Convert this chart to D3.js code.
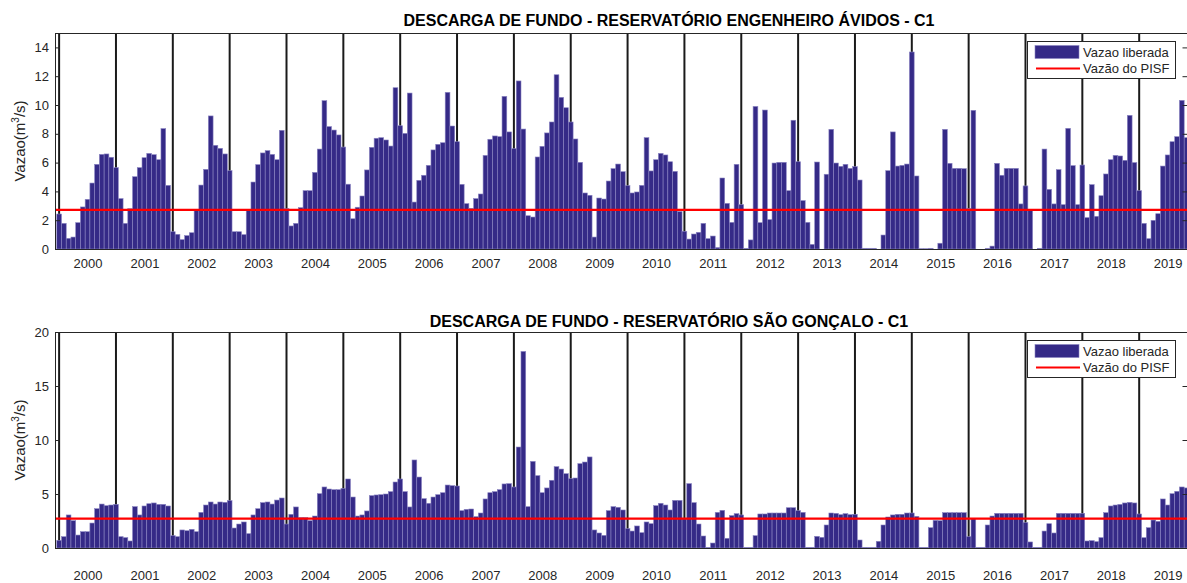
<!DOCTYPE html>
<html>
<head>
<meta charset="utf-8">
<script src="https://cdn.jsdelivr.net/npm/d3@7"></script>
<style>
  body { margin: 0; background: #fff; }
  svg { display: block; font-family: "Liberation Sans", Arial, sans-serif; }
</style>
</head>
<body>
<div id="chart"></div>
<script>
// monthly values, Jan 2000 .. Dec 2019 (one row per year)
const years = d3.range(2000, 2020);

const avidos = [
  2.43, 1.78, 0.74, 0.83, 1.83, 2.92, 3.45, 4.58, 5.88, 6.57, 6.6, 6.37,
  5.65, 3.5, 1.78, 2.8, 5.02, 5.65, 6.34, 6.64, 6.55, 6.2, 8.36, 4.42,
  1.2, 1.02, 0.65, 0.93, 1.13, 2.75, 4.44, 5.53, 9.24, 7.2, 6.99, 6.6,
  5.44, 1.2, 1.2, 1.0, 2.7, 4.65, 5.86, 6.67, 6.83, 6.57, 6.2, 8.24,
  2.8, 1.6, 1.78, 2.87, 4.05, 4.05, 5.32, 6.94, 10.3, 8.5, 8.26, 7.92,
  7.08, 4.5, 2.1, 2.9, 3.68, 5.49, 7.06, 7.69, 7.73, 7.57, 7.15, 11.2,
  8.56, 8.03, 10.83, 3.26, 4.77, 5.12, 5.81, 6.88, 7.27, 7.38, 10.88, 8.54,
  7.45, 4.49, 3.15, 2.82, 3.5, 3.82, 6.5, 7.62, 7.85, 7.8, 10.6, 8.13,
  6.97, 11.67, 8.33, 2.31, 2.22, 6.39, 7.13, 8.06, 8.82, 12.1, 10.53, 9.81,
  8.82, 7.64, 6.02, 3.89, 3.73, 0.83, 3.54, 3.47, 4.72, 5.58, 5.9, 5.37,
  4.4, 3.89, 3.96, 4.42, 7.73, 5.42, 6.2, 6.64, 6.53, 6.06, 5.39, 2.6,
  1.23, 0.69, 1.04, 1.16, 1.78, 0.72, 0.9, 0.1, 4.93, 3.17, 1.85, 5.88,
  3.08, 0.05, 0.63, 9.9, 1.83, 9.65, 2.04, 5.97, 6.02, 6.02, 4.05, 8.94,
  6.06, 3.36, 1.85, 0.32, 6.04, 0, 5.19, 8.31, 5.97, 5.74, 5.88, 5.6,
  5.72, 4.79, 0.05, 0.05, 0.05, 0, 0.97, 5.44, 8.13, 5.76, 5.81, 5.9,
  13.68, 5.07, 0.02, 0.02, 0.05, 0, 0.4, 8.31, 5.95, 5.6, 5.6, 5.58,
  2.82, 9.63, 0, 0, 0.05, 0.2, 5.95, 5.12, 5.6, 5.6, 5.6, 3.13,
  4.38, 2.75, 0, 0.05, 6.94, 4.14, 3.13, 5.51, 3.08, 8.38, 5.79, 3.08,
  5.83, 2.18, 4.47, 2.27, 3.7, 5.21, 6.2, 6.5, 6.46, 6.16, 9.28, 6.0,
  4.05, 1.78, 0.72, 1.99, 2.45, 5.76, 6.53, 7.45, 7.8, 10.32, 7.73, 7.7,
];

const saoGoncalo = [
  0.71, 1.05, 3.06, 2.53, 1.2, 1.51, 1.51, 2.31, 3.64, 4.07, 3.92, 3.98,
  4.04, 1.05, 0.96, 0.65, 3.83, 3.06, 3.89, 4.1, 4.17, 4.04, 4.04, 3.89,
  1.14, 1.05, 1.67, 1.6, 1.73, 1.51, 3.3, 3.98, 4.26, 4.07, 4.26, 4.23,
  4.38, 1.85, 2.22, 2.41, 1.33, 3.06, 3.64, 4.2, 4.26, 4.07, 4.44, 4.63,
  2.22, 3.12, 3.8, 2.81, 2.81, 2.53, 2.96, 5.03, 5.65, 5.46, 5.4, 5.4,
  5.52, 6.39, 4.72, 2.96, 3.06, 3.43, 4.85, 4.91, 4.94, 5.0, 5.22, 6.11,
  6.39, 5.22, 3.8, 8.15, 6.57, 4.57, 4.14, 4.72, 4.94, 5.12, 5.83, 5.77,
  5.74, 3.46, 3.58, 3.61, 2.9, 3.24, 4.54, 5.12, 5.22, 5.4, 5.93, 5.96,
  5.65, 9.35, 18.2, 3.83, 8.02, 6.7, 5.12, 5.56, 6.27, 7.53, 7.31, 6.88,
  6.42, 6.48, 7.81, 7.96, 8.43, 1.67, 1.39, 1.17, 3.46, 3.83, 3.77, 3.52,
  1.79, 1.57, 2.04, 1.42, 2.41, 2.25, 3.92, 4.14, 3.98, 3.52, 4.41, 4.41,
  2.7, 5.96, 4.2, 2.22, 1.11, 0.05, 0.46, 3.3, 3.49, 0.9, 3.0, 3.18,
  3.06, 0.05, 0.05, 1.14, 3.15, 3.15, 3.24, 3.24, 3.24, 3.24, 3.73, 3.73,
  3.46, 3.3, 0.06, 0.06, 1.08, 0.99, 2.13, 3.24, 3.21, 3.09, 3.18, 3.09,
  3.12, 0.74, 0.06, 0.05, 0.05, 0.62, 2.13, 2.87, 3.06, 3.12, 3.12, 3.24,
  3.24, 2.93, 0.06, 0.05, 1.88, 2.56, 2.53, 3.27, 3.27, 3.27, 3.27, 3.27,
  1.05, 2.7, 0.06, 0.05, 2.13, 2.96, 3.21, 3.21, 3.21, 3.21, 3.21, 3.21,
  2.35, 0.56, 0.06, 0.06, 1.57, 2.25, 1.39, 3.21, 3.21, 3.21, 3.21, 3.21,
  3.21, 0.65, 0.68, 0.59, 0.96, 3.27, 3.89, 3.98, 4.04, 4.17, 4.23, 4.17,
  3.15, 0.96, 1.88, 2.59, 2.47, 4.54, 3.98, 5.03, 5.25, 5.65, 5.56, 5.5,
];

const pisf = 2.72;
const legendLabels = ['Vazao liberada', 'Vazão do PISF'];

const panels = [
  {
    id: 'avidos',
    title: 'DESCARGA DE FUNDO - RESERVATÓRIO ENGENHEIRO ÁVIDOS - C1',
    values: avidos,
    yMax: 15,
    yTicks: [0, 2, 4, 6, 8, 10, 12, 14],
    top: 33,
    bottom: 249,
    titleY: 25.5,
    yearY: 268,
  },
  {
    id: 'sao',
    title: 'DESCARGA DE FUNDO - RESERVATÓRIO SÃO GONÇALO - C1',
    values: saoGoncalo,
    yMax: 20,
    yTicks: [0, 5, 10, 15, 20],
    top: 332,
    bottom: 548,
    titleY: 326.5,
    yearY: 580,
  },
];

const W = 1187;
const H = 583;
const left = 55;
const right = 1187.5;
const barColor = '#352a87';
const axisColor = '#262626';

const svg = d3.select('#chart')
  .append('svg')
    .attr('width', W)
    .attr('height', H)
    .attr('viewBox', `0 0 ${W} ${H}`);

// month index -> x (Jan 2000 = 0)
const x = d3.scaleLinear()
  .domain([-0.87, 238.2])
  .range([left, right]);
const bw = x(1) - x(0);

panels.forEach((p) => {
  const y = d3.scaleLinear()
    .domain([0, p.yMax])
    .range([p.bottom, p.top]);

  const g = svg.append('g').attr('class', `panel panel--${p.id}`);

  svg.append('defs')
    .append('clipPath')
      .attr('id', `clip-${p.id}`)
    .append('rect')
      .attr('x', left)
      .attr('y', p.top)
      .attr('width', right - left)
      .attr('height', p.bottom - p.top);

  const plot = g.append('g').attr('clip-path', `url(#clip-${p.id})`);

  // year separators (drawn behind the bars)
  plot.append('g')
    .selectAll('line')
    .data(years)
    .enter()
    .append('line')
      .attr('x1', (d, i) => x(i * 12))
      .attr('x2', (d, i) => x(i * 12))
      .attr('y1', y(p.yMax))
      .attr('y2', y(0))
      .attr('stroke', '#1a1a1a')
      .attr('stroke-width', 2);

  // bars
  plot.append('g')
    .selectAll('rect')
    .data(p.values)
    .enter()
    .append('rect')
      .attr('x', (d, i) => x(i) - bw / 2)
      .attr('y', d => y(d))
      .attr('width', bw)
      .attr('height', d => y(0) - y(d))
      .attr('fill', barColor)
      .attr('stroke', '#8a84c2')
      .attr('stroke-width', 0.6);

  // PISF reference
  plot.append('line')
    .attr('x1', left)
    .attr('x2', right)
    .attr('y1', y(pisf))
    .attr('y2', y(pisf))
    .attr('stroke', '#ff0000')
    .attr('stroke-width', 2.2);

  // axes
  const axisY = d3.axisLeft(y)
    .tickValues(p.yTicks)
    .tickSizeInner(-5)
    .tickSizeOuter(0)
    .tickPadding(6);

  const yAxis = g.append('g')
    .attr('transform', `translate(${left}, 0)`)
    .call(axisY);

  const yRight = g.append('g')
    .attr('transform', `translate(${right}, 0)`)
    .call(d3.axisRight(y).tickValues(p.yTicks).tickSizeInner(-5).tickSizeOuter(0).tickFormat(''));

  const axisX = d3.axisBottom(x)
    .tickValues(years.map((d, i) => i * 12 + 6))
    .tickSize(0)
    .tickFormat((d, i) => years[i]);

  const xAxis = g.append('g')
    .attr('transform', `translate(0, ${p.bottom})`)
    .call(axisX);
  xAxis.selectAll('.tick text').attr('y', p.yearY - p.bottom).attr('dy', 0);

  [yAxis, yRight, xAxis].forEach((a) => {
    a.select('.domain').attr('stroke', axisColor);
    a.selectAll('.tick line').attr('stroke', axisColor);
    a.selectAll('.tick text')
      .attr('fill', axisColor)
      .style('font-size', '13px')
      .style('font-family', '"Liberation Sans", Arial, sans-serif');
  });

  // top border
  g.append('line')
    .attr('x1', left)
    .attr('x2', right)
    .attr('y1', p.top + 0.5)
    .attr('y2', p.top + 0.5)
    .attr('stroke', axisColor);

  // title
  g.append('text')
    .attr('x', 669)
    .attr('y', p.titleY)
    .attr('text-anchor', 'middle')
    .attr('fill', '#000')
    .style('font-size', '16px')
    .style('font-weight', 'bold')
    .text(p.title);

  // y label
  const yl = g.append('text')
    .attr('transform', `translate(25, ${(p.top + p.bottom) / 2}) rotate(-90)`)
    .attr('text-anchor', 'middle')
    .attr('fill', axisColor)
    .style('font-size', '15px');
  yl.append('tspan').text('Vazao(m');
  yl.append('tspan').attr('dy', -6).style('font-size', '10px').text('3');
  yl.append('tspan').attr('dy', 6).text('/s)');

  // legend
  const lg = g.append('g').attr('transform', `translate(1027, ${p.top})`);
  lg.append('rect')
    .attr('x', 0.5)
    .attr('y', 8.5)
    .attr('width', 148)
    .attr('height', 37)
    .attr('fill', '#fff')
    .attr('stroke', axisColor)
    .attr('stroke-width', 1);
  lg.append('rect')
    .attr('x', 8)
    .attr('y', 12.5)
    .attr('width', 44)
    .attr('height', 13)
    .attr('fill', barColor)
    .attr('stroke', '#8a84c2')
    .attr('stroke-width', 0.6);
  lg.append('line')
    .attr('x1', 9)
    .attr('x2', 53)
    .attr('y1', 35.5)
    .attr('y2', 35.5)
    .attr('stroke', '#ff0000')
    .attr('stroke-width', 2.2);
  lg.selectAll('.legend-label')
    .data(legendLabels)
    .enter()
    .append('text')
      .attr('class', 'legend-label')
      .attr('x', 56)
      .attr('y', (d, i) => (i === 0 ? 24 : 40))
      .attr('fill', axisColor)
      .style('font-size', '13px')
      .text(d => d);
});
</script>
</body>
</html>
